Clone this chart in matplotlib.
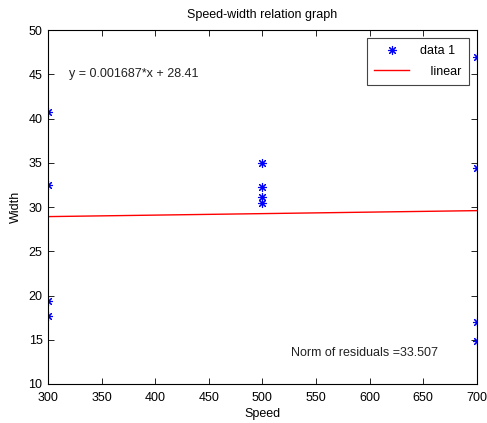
import matplotlib
matplotlib.use('Agg')
import matplotlib.pyplot as plt
import numpy as np

plt.rcParams['font.family'] = ['Liberation Sans', 'DejaVu Sans']
plt.rcParams['font.size'] = 9

speed = [300, 300, 300, 300, 500, 500, 500, 500, 700, 700, 700, 700]
width = [40.7, 32.5, 19.4, 17.7, 35.0, 32.3, 31.1, 30.4, 47.0, 34.4, 17.0, 14.9]

slope = 0.001687
intercept = 28.41
fit_x = [300, 700]

fig = plt.figure(figsize=(4.87, 4.23), dpi=100)
ax = fig.add_axes([0.0986, 0.0922, 0.8804, 0.8368])

# matlab style asterisk: plus and cross together
ax.plot(speed, width, marker=(8, 2, 0), color='blue', markersize=6.5, markeredgewidth=0.8,
        linestyle='none', label='data 1')
fx = np.array(fit_x)
ax.plot(fx, intercept + slope * fx, color='red', linewidth=1, label='   linear')

ax.set_xlim(300, 700)
ax.set_ylim(10, 50)
ax.set_xticks(range(300, 701, 50))
ax.set_yticks(range(10, 51, 5))
ax.tick_params(direction='in', top=True, right=True, length=4, width=0.6, labelsize=9)
ax.tick_params(axis='x', pad=6)
ax.tick_params(axis='y', pad=4)
for s in ax.spines.values():
    s.set_linewidth(0.8)

ax.set_title('Speed-width relation graph', fontsize=9, pad=9)
ax.set_xlabel('Speed', fontsize=9, labelpad=3)
ax.set_ylabel('Width', fontsize=9, labelpad=5)

ax.text(320, 45, 'y = 0.001687*x + 28.41', fontsize=9, va='center', color='#222222')
ax.text(527, 13.5, 'Norm of residuals =33.507', fontsize=9, va='center', color='#222222')

leg = ax.legend(loc='upper right', fancybox=False, edgecolor='#444444', framealpha=1,
                borderaxespad=0.6, handlelength=2.8, handletextpad=0.9, labelspacing=0.7,
                borderpad=0.6, fontsize=9)
leg.get_frame().set_linewidth(0.8)

fig.savefig('out.png', dpi=100)
